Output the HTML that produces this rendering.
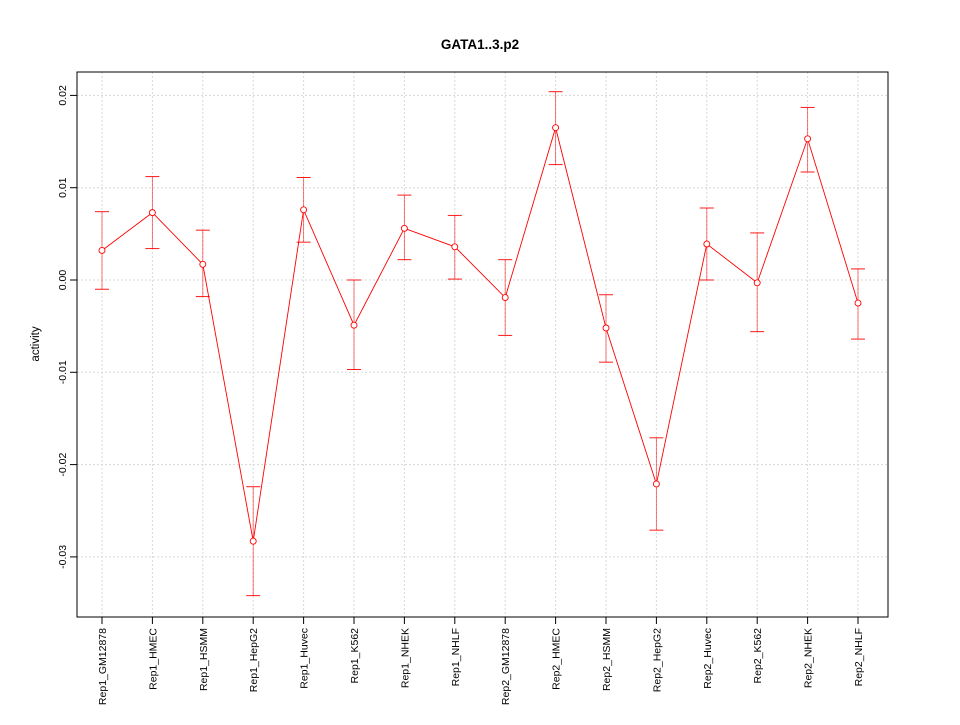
<!DOCTYPE html>
<html><head><meta charset="utf-8"><style>
body{margin:0;background:#fff;}
svg text{font-family:"Liberation Sans",Arial,sans-serif;}
</style></head><body>
<svg id="chart" width="960" height="720" xmlns="http://www.w3.org/2000/svg">
<text x="480" y="49" text-anchor="middle" font-size="13.5" font-weight="bold">GATA1..3.p2</text>
<text transform="translate(39,344) rotate(-90)" text-anchor="middle" font-size="11.5">activity</text>
<g id="grid"></g>
<g id="axes"></g>
<g id="marks"></g>
<rect x="77" y="72" width="811" height="545" fill="none" stroke="#000"/>
</svg>
<script>
const categories=["Rep1_GM12878","Rep1_HMEC","Rep1_HSMM","Rep1_HepG2","Rep1_Huvec","Rep1_K562","Rep1_NHEK","Rep1_NHLF","Rep2_GM12878","Rep2_HMEC","Rep2_HSMM","Rep2_HepG2","Rep2_Huvec","Rep2_K562","Rep2_NHEK","Rep2_NHLF"];
const values=[0.0032,0.0073,0.0017,-0.0283,0.0076,-0.0049,0.0056,0.0036,-0.0019,0.0165,-0.0052,-0.0221,0.0039,-0.0003,0.0153,-0.0025];
const upper=[0.0074,0.0112,0.0054,-0.0224,0.0111,0.0,0.0092,0.0070,0.0022,0.0204,-0.0016,-0.0171,0.0078,0.0051,0.0187,0.0012];
const lower=[-0.0010,0.0034,-0.0018,-0.0342,0.0041,-0.0097,0.0022,0.0001,-0.0060,0.0125,-0.0089,-0.0271,0.0,-0.0056,0.0117,-0.0064];
const yTicks=[-0.03,-0.02,-0.01,0.00,0.01,0.02];
const yTickLabels=["-0.03","-0.02","-0.01","0.00","0.01","0.02"];
const NS="http://www.w3.org/2000/svg";
const x=i=>102+i*(858-102)/(categories.length-1);
const y=v=>280-v*9230;
function mk(tag,attrs,parent){const e=document.createElementNS(NS,tag);for(const k in attrs)e.setAttribute(k,attrs[k]);parent.appendChild(e);return e;}
const grid=document.getElementById('grid'),axes=document.getElementById('axes'),marks=document.getElementById('marks');
categories.forEach((c,i)=>{
 const g=mk('line',{x1:x(i),x2:x(i),y1:72,y2:617,stroke:'#d8d8d8','stroke-dasharray':'2,2'},grid);
 
 const t=mk('line',{x1:x(i),x2:x(i),y1:617,y2:624,stroke:'#000'},axes);
 
 const l=mk('text',{transform:`translate(${x(i)+4},628) rotate(-90)`,'text-anchor':'end','font-size':'10.5'},axes);
 l.textContent=c;
 
});
yTicks.forEach((v,i)=>{
 const g=mk('line',{x1:77,x2:888,y1:y(v),y2:y(v),stroke:'#d8d8d8','stroke-dasharray':'2,2'},grid);
 
 const t=mk('line',{x1:70,x2:77,y1:y(v),y2:y(v),stroke:'#000'},axes);
 
 const l=mk('text',{transform:`translate(66,${y(v)}) rotate(-90)`,'text-anchor':'middle','font-size':'10.5'},axes);
 l.textContent=yTickLabels[i];
 
});
const pl=mk('polyline',{points:values.map((v,i)=>x(i)+','+y(v)).join(' '),fill:'none',stroke:'#f00','stroke-width':0.9},marks);

values.forEach((v,i)=>{
 const e=mk('g',{stroke:'#f00',fill:'none','stroke-width':0.9},marks);
 
 mk('line',{x1:x(i),x2:x(i),y1:y(upper[i]),y2:y(lower[i]),'stroke-opacity':0.6},e);
 mk('line',{x1:x(i)-7,x2:x(i)+7,y1:y(upper[i]),y2:y(upper[i])},e);
 mk('line',{x1:x(i)-7,x2:x(i)+7,y1:y(lower[i]),y2:y(lower[i])},e);
 const p=mk('circle',{cx:x(i),cy:y(v),r:3,fill:'#fff',stroke:'#f00','stroke-width':0.9},marks);
 
});
</script>
</body></html>
